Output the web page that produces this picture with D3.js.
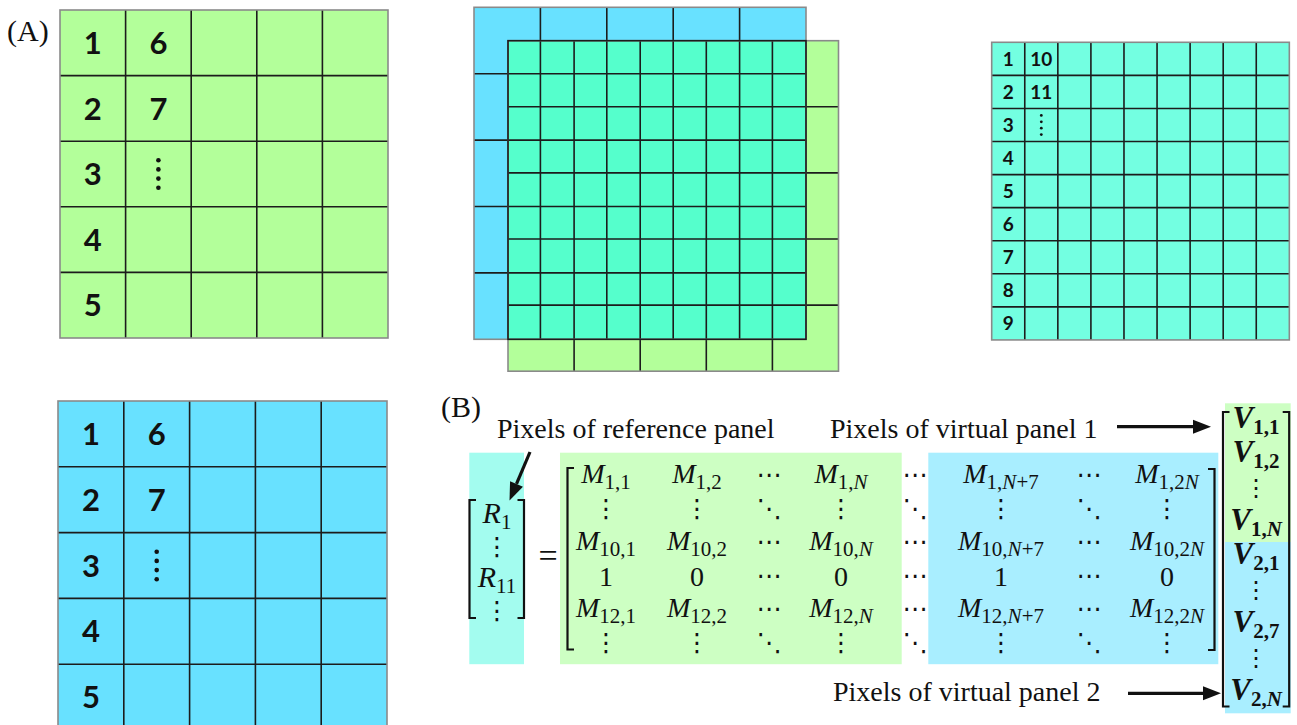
<!DOCTYPE html>
<html><head><meta charset="utf-8">
<script src="https://cdn.jsdelivr.net/npm/d3@7"></script>
<style>body{margin:0;background:#fff} svg{display:block}</style>
</head><body>
<svg id="fig" width="1297" height="725"></svg>
<script>
// ---- Panel (A): pixel numbering of the panels ----
const coarseCol1 = ["1", "2", "3", "4", "5"];
const coarseCol2 = ["6", "7", "⋮"];
const fineCol1 = ["1", "2", "3", "4", "5", "6", "7", "8", "9"];
const fineCol2 = ["10", "11", "⋮"];
const coarseN = 5;
const fineN = 9;

// ---- Panel (B): the linear system R = M · V ----
const refVector = [["R", "1"], ["⋮"], ["R", "11"], ["⋮"]];
const matrixColumns = [
  [["M", "1,1"], ["⋮"], ["M", "10,1"], ["1"], ["M", "12,1"], ["⋮"]],
  [["M", "1,2"], ["⋮"], ["M", "10,2"], ["0"], ["M", "12,2"], ["⋮"]],
  [["⋯"], ["⋱"], ["⋯"], ["⋯"], ["⋯"], ["⋱"]],
  [["M", "1,N"], ["⋮"], ["M", "10,N"], ["0"], ["M", "12,N"], ["⋮"]],
  [["⋯"], ["⋱"], ["⋯"], ["⋯"], ["⋯"], ["⋱"]],
  [["M", "1,N+7"], ["⋮"], ["M", "10,N+7"], ["1"], ["M", "12,N+7"], ["⋮"]],
  [["⋯"], ["⋱"], ["⋯"], ["⋯"], ["⋯"], ["⋱"]],
  [["M", "1,2N"], ["⋮"], ["M", "10,2N"], ["0"], ["M", "12,2N"], ["⋮"]]
];
const virtualVector = [["V", "1,1"], ["V", "1,2"], ["⋮"], ["V", "1,N"], ["V", "2,1"], ["⋮"], ["V", "2,7"], ["⋮"], ["V", "2,N"]];
const captions = ["Pixels of reference panel", "Pixels of virtual panel 1", "Pixels of virtual panel 2"];
const panelLetters = ["(A)", "(B)"];

const C = {
  green: "#b3ff9a", blue: "#68e1ff", overlap: "#55ffcc", teal: "#73ffe1",
  mGreen: "#cdffc3", mBlue: "#a9eeff", rBox: "#a3fcef",
  line: "#1c1c1c", edge: "#8a8a8a", ink: "#111"
};
const SERIF = "'Liberation Serif','Times New Roman',serif";
const SANS = "Lato,'Open Sans',sans-serif";
const SYM = "'DejaVu Sans',sans-serif";

const svg = d3.select("#fig");

// Grid of square pixels: background and inner lines
function grid(g, x0, y0, cell, nCols, nRows, fill) {
  const x = d3.scaleLinear().domain([0, nCols]).range([x0, x0 + cell * nCols]);
  const y = d3.scaleLinear().domain([0, nRows]).range([y0, y0 + cell * nRows]);
  if (fill) g.append("rect").attr("x", x(0)).attr("y", y(0))
    .attr("width", x(nCols) - x(0)).attr("height", y(nRows) - y(0)).attr("fill", fill);
  g.selectAll(null).data(d3.range(1, nCols)).join("line")
    .attr("x1", d => x(d)).attr("x2", d => x(d)).attr("y1", y(0)).attr("y2", y(nRows))
    .attr("stroke", C.line).attr("stroke-width", 1.6);
  g.selectAll(null).data(d3.range(1, nRows)).join("line")
    .attr("y1", d => y(d)).attr("y2", d => y(d)).attr("x1", x(0)).attr("x2", x(nCols))
    .attr("stroke", C.line).attr("stroke-width", 1.6);
  return { x, y };
}
function border(g, s, nCols, nRows, color) {
  g.append("rect").attr("x", s.x(0)).attr("y", s.y(0))
    .attr("width", s.x(nCols) - s.x(0)).attr("height", s.y(nRows) - s.y(0))
    .attr("fill", "none").attr("stroke", color).attr("stroke-width", 1.6);
}
// Pixel indices written in the first two columns; "⋮" drawn as four dots
function labels(g, s, col, values, fs, dotR, dotGap) {
  const cell = s.x(1) - s.x(0);
  values.forEach((v, i) => {
    const cx = s.x(col) + cell / 2, cy = s.y(i) + cell / 2;
    if (v === "⋮") {
      g.selectAll(null).data(d3.range(4)).join("circle")
        .attr("cx", cx).attr("cy", d => cy + (d - 1.5) * dotGap).attr("r", dotR).attr("fill", C.ink);
    } else {
      g.append("text").attr("x", cx).attr("y", cy + fs * 0.36)
        .attr("text-anchor", "middle").attr("font-family", SANS).attr("font-weight", 700)
        .attr("font-size", fs).attr("fill", C.ink).text(v);
    }
  });
}

// (A) coarse panel, green
const gA = svg.append("g");
const sA = grid(gA, 60, 10, 65.6, coarseN, coarseN, C.green);
border(gA, sA, coarseN, coarseN, C.edge);
labels(gA, sA, 0, coarseCol1, 31, 2.3, 9.2);
labels(gA, sA, 1, coarseCol2, 31, 2.3, 9.2);

// (A) coarse panel, blue (runs off the bottom edge)
const gB = svg.append("g");
const sB = grid(gB, 58, 401, 65.8, coarseN, coarseN, C.blue);
border(gB, sB, coarseN, coarseN, C.edge);
labels(gB, sB, 0, coarseCol1, 31, 2.3, 9.2);
labels(gB, sB, 1, coarseCol2, 31, 2.3, 9.2);

// (A) the two panels superimposed with a half-pixel shift
const gM = svg.append("g");
const bx0 = 474, by0 = 7.3, bc = 66.4, gx0 = 508, gy0 = 40.7, gc = 66.1;
gM.append("rect").attr("x", bx0).attr("y", by0).attr("width", bc * 5).attr("height", bc * 5).attr("fill", C.blue);
gM.append("rect").attr("x", gx0).attr("y", gy0).attr("width", gc * 5).attr("height", gc * 5).attr("fill", C.green);
const ox0 = gx0, oy0 = gy0, ox1 = bx0 + bc * 5, oy1 = by0 + bc * 5;
gM.append("rect").attr("x", ox0).attr("y", oy0).attr("width", ox1 - ox0).attr("height", oy1 - oy0).attr("fill", C.overlap);
const sMb = grid(gM, bx0, by0, bc, coarseN, coarseN, null);
const sMg = grid(gM, gx0, gy0, gc, coarseN, coarseN, null);
border(gM, sMb, coarseN, coarseN, C.edge);
border(gM, sMg, coarseN, coarseN, C.edge);
gM.append("rect").attr("x", ox0).attr("y", oy0).attr("width", ox1 - ox0).attr("height", oy1 - oy0)
  .attr("fill", "none").attr("stroke", C.line).attr("stroke-width", 1.6);

// (A) fine 9×9 panel
const gF = svg.append("g");
const sF = grid(gF, 991.7, 42.3, 33.07, fineN, fineN, C.teal);
border(gF, sF, fineN, fineN, C.edge);
labels(gF, sF, 0, fineCol1, 19, 1.4, 6.4);
labels(gF, sF, 1, fineCol2, 19, 1.4, 6.4);

// panel letters
svg.selectAll(".letter").data(panelLetters).join("text").attr("class", "letter")
  .attr("x", (d, i) => [7, 441][i]).attr("y", (d, i) => [41, 417][i])
  .attr("font-family", SERIF).attr("font-size", 30).attr("fill", C.ink).text(d => d);

// ---- (B) ----
const gE = svg.append("g");
// shaded blocks behind the vectors and matrix
gE.append("rect").attr("x", 469.3).attr("y", 452.7).attr("width", 54.7).attr("height", 211.5).attr("fill", C.rBox);
gE.append("rect").attr("x", 560).attr("y", 452.7).attr("width", 341.7).attr("height", 211.5).attr("fill", C.mGreen);
gE.append("rect").attr("x", 928.3).attr("y", 452.7).attr("width", 290).attr("height", 211.5).attr("fill", C.mBlue);
const vy = d3.scaleLinear().domain([0, virtualVector.length - 1]).range([428, 700]);
const vSplit = (vy(3) + vy(4)) / 2 - 5;
gE.append("rect").attr("x", 1225).attr("y", 403.3).attr("width", 65.7).attr("height", vSplit - 403.3).attr("fill", C.mGreen);
gE.append("rect").attr("x", 1225).attr("y", vSplit).attr("width", 65.7).attr("height", 713.3 - vSplit).attr("fill", C.mBlue);

// square brackets
function bracket(x, y0, y1, dir) {
  const s = 6.5 * dir;
  gE.append("path").attr("d", `M${x + s},${y0}H${x}V${y1}H${x + s}`)
    .attr("fill", "none").attr("stroke", C.ink).attr("stroke-width", 2.2);
}
bracket(469.5, 500, 618, 1); bracket(524, 500, 618, -1);
bracket(567.5, 468, 649.5, 1); bracket(1214.5, 469, 650, -1);
bracket(1223, 412, 706.5, 1); bracket(1289.2, 412, 706.5, -1);

// one matrix entry: italic base letter with upright subscript (N in italics), or a lone symbol
function entry(g, x, y, e, opt) {
  const t = g.append("text").attr("x", x).attr("y", y).attr("text-anchor", "middle").attr("fill", C.ink);
  if (e.length === 1) {
    const sym = /[⋮⋯⋱]/.test(e[0]);
    t.attr("font-family", sym ? SYM : SERIF).attr("font-size", sym ? opt.symSize : opt.size)
      .attr("font-weight", sym ? 400 : opt.weight).text(e[0]);
    return;
  }
  t.attr("font-family", SERIF).attr("font-weight", opt.weight);
  t.append("tspan").attr("font-style", "italic").attr("font-size", opt.size).text(e[0]);
  const parts = e[1].split(/(N)/).filter(p => p.length);
  parts.forEach((p, k) => {
    const ts = t.append("tspan").attr("font-size", opt.subSize)
      .attr("font-style", p === "N" ? "italic" : "normal").text(p);
    if (k === 0) ts.attr("dy", opt.subDy);
  });
}

const mOpt = { size: 28, subSize: 21, subDy: 6, weight: 400, symSize: 25 };
const colCenters = [606, 697, 769, 841, 915, 1001, 1089, 1167];
const rowY = d3.scaleLinear().domain([0, 5]).range([483, 651]);
matrixColumns.forEach((col, ci) => col.forEach((e, ri) => {
  entry(gE, colCenters[ci], rowY(ri) + (e[0] === "1" || e[0] === "0" ? 2 : 0), e, mOpt);
}));

const ry = d3.scaleLinear().domain([0, refVector.length - 1]).range([523, 619]);
refVector.forEach((e, i) => entry(gE, 497, ry(i), e, { size: 30, subSize: 21, subDy: 6, weight: 400, symSize: 25 }));

virtualVector.forEach((e, i) => entry(gE, 1256, vy(i), e, { size: 31, subSize: 21, subDy: 6, weight: 700, symSize: 24 }));

gE.append("text").attr("x", 548).attr("y", 567).attr("text-anchor", "middle")
  .attr("font-family", SERIF).attr("font-size", 34).attr("fill", C.ink).text("=");

// captions and arrows
const capPos = [[497, 438], [830, 438], [833, 701]];
svg.selectAll(".cap").data(captions).join("text").attr("class", "cap")
  .attr("x", (d, i) => capPos[i][0]).attr("y", (d, i) => capPos[i][1])
  .attr("font-family", SERIF).attr("font-size", 28).attr("fill", C.ink).text(d => d);

function arrow(x1, y1, x2, y2) {
  const a = Math.atan2(y2 - y1, x2 - x1), L = 18, W = 7;
  const bx = x2 - L * Math.cos(a), by = y2 - L * Math.sin(a);
  svg.append("line").attr("x1", x1).attr("y1", y1).attr("x2", bx).attr("y2", by)
    .attr("stroke", C.ink).attr("stroke-width", 3.2);
  svg.append("path").attr("d", d3.line()([
    [x2, y2],
    [bx + W * Math.sin(a), by - W * Math.cos(a)],
    [bx - W * Math.sin(a), by + W * Math.cos(a)]
  ]) + "Z").attr("fill", C.ink);
}
arrow(530, 452, 509.5, 500.5);
arrow(1117, 426.7, 1211, 426.7);
arrow(1128, 693.3, 1221, 693.3);
</script>
</body></html>
